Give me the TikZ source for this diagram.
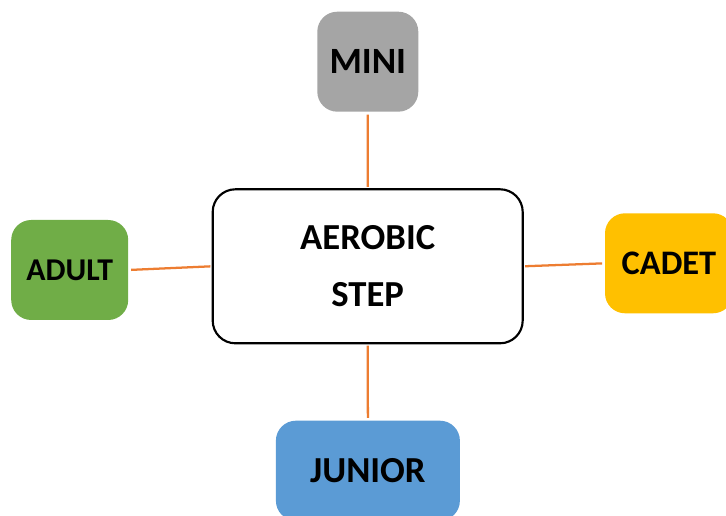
\documentclass[tikz,border=0pt]{standalone}
\usepackage{fontspec}
\setmainfont{Carlito}
\definecolor{minigray}{HTML}{A5A5A5}
\definecolor{adultgreen}{HTML}{70AD47}
\definecolor{cadetgold}{HTML}{FFC000}
\definecolor{juniorblue}{HTML}{5B9BD5}
\definecolor{linkorange}{HTML}{ED7D31}
\tikzset{
  agebox/.style={rounded corners=15pt, inner sep=0pt, minimum height=75pt, font=\bfseries},
  link/.style={draw=linkorange, line width=1.7pt, shorten <=2pt, shorten >=1pt}
}
\begin{document}
\begin{tikzpicture}[x=0.75pt, y=-0.75pt]
\clip (0,0) rectangle (726,516);
\useasboundingbox (0,0) rectangle (726,516);
% centre
\node (aerobic) [draw=black, line width=1.6pt, rounded corners=17pt, fill=white,
  minimum width=232.5pt, minimum height=115.5pt, align=center,
  font=\fontsize{27.5}{42.75}\selectfont\bfseries] at (367.7,266.3) {AEROBIC\\STEP};
% age groups
\node (mini) [agebox, fill=minigray, minimum width=75.75pt,
  font=\fontsize{27.8}{30}\selectfont\bfseries] at (367.8,61.7) {MINI};
\node (adult) [agebox, fill=adultgreen, minimum width=87.75pt,
  font=\fontsize{23.8}{26}\selectfont\bfseries] at (69.7,270) {ADULT};
\node (cadet) [agebox, fill=cadetgold, minimum width=96pt,
  font=\fontsize{25.8}{28}\selectfont\bfseries] at (669,263.3) {CADET};
\node (junior) [agebox, fill=juniorblue, minimum width=138pt,
  font=\fontsize{27.5}{28}\selectfont\bfseries] at (367.9,470.7) {JUNIOR};
% links
\draw [link] (mini.south) -- (aerobic.north);
\draw [link] (adult.east) -- (aerobic.west);
\draw [link] (cadet.west) -- (aerobic.east);
\draw [link] (junior.north) -- (aerobic.south);
\end{tikzpicture}
\end{document}
